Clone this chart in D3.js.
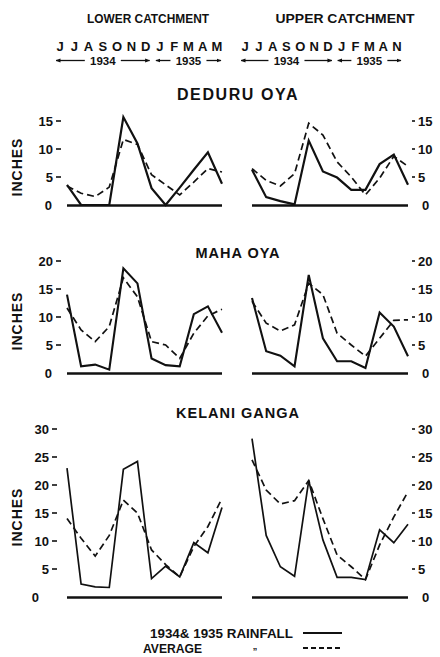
<!DOCTYPE html>
<html>
<head>
<meta charset="utf-8">
<script src="https://cdn.jsdelivr.net/npm/d3@7"></script>
<style>
  html, body { margin: 0; padding: 0; background: #fff; }
  svg { display: block; }
  text { font-family: "Liberation Sans", Arial, sans-serif; fill: #111; }
</style>
</head>
<body>
<svg id="chart" width="440" height="657"></svg>
<script>
/* ── datos: lluvia mensual (pulgadas), julio 1934 → mayo 1935 ── */
const meses        = ["Jul","Aug1","Aug","Sep","Oct","Nov","Dec","Jan","Feb","Mar","Apr","May"];
const letrasBaja   = ["J","J","A","S","O","N","D","J","F","M","A","M"];
const letrasAlta   = ["J","J","A","S","O","N","D","J","F","M","A","N"];
const rios         = ["DEDURU OYA", "MAHA OYA", "KELANI GANGA"];

const deduruBajaLluvia   = [3.6, 0, 0, 0, 15.7, 11, 3, 0, 3.1, 6.3, 9.4, 3.8];
const deduruBajaMedia    = [3.4, 2.1, 1.5, 3.2, 11.7, 10.8, 5.4, 3.6, 1.8, 4.1, 6.5, 5.9];
const deduruAltaLluvia   = [6.3, 1.4, 0.7, 0.1, 11.5, 6, 4.9, 2.7, 2.7, 7.3, 9, 3.6];
const deduruAltaMedia    = [6.5, 4.4, 3.4, 5.6, 14.6, 12.5, 7.7, 5, 1.8, 4.8, 8.7, 6.9];

const mahaBajaLluvia     = [14, 1.2, 1.5, 0.6, 18.7, 16, 2.6, 1.4, 1.2, 10.5, 11.9, 7.2];
const mahaBajaMedia      = [11.6, 7.7, 5.6, 8.3, 17, 13.6, 5.6, 5, 2.6, 7.1, 10.2, 11.4];
const mahaAltaLluvia     = [13.4, 3.9, 3.1, 1.2, 17.5, 6.2, 2.1, 2.1, 0.9, 10.8, 8.3, 3];
const mahaAltaMedia      = [12.8, 8.9, 7.5, 8.6, 16, 14, 7.1, 5, 3, 6.2, 9.4, 9.5];

const kelaniBajaLluvia   = [23, 2.3, 1.8, 1.7, 22.8, 24.2, 3.3, 5.5, 3.6, 9.7, 7.9, 16];
const kelaniBajaMedia    = [14, 10.5, 7.3, 11, 17.3, 15, 8.4, 5.8, 3.6, 9, 12.6, 17.6];
const kelaniAltaLluvia   = [28.3, 11, 5.4, 3.7, 20.8, 10.2, 3.5, 3.5, 3.1, 12, 9.7, 13];
const kelaniAltaMedia    = [24.5, 19.1, 16.6, 17.2, 20.8, 14, 7.5, 5.4, 3.1, 9.3, 14.3, 18.8];

const deduruTicks = [0, 5, 10, 15];
const mahaTicks   = [0, 5, 10, 15, 20];
const kelaniTicks = [0, 5, 10, 15, 20, 25, 30];

const anios = [{ label: "1934", desde: 0, hasta: 6 }, { label: "1935", desde: 7, hasta: 11 }];

/* ── armado de paneles ── */
const paneles = [
  { rio: rios[0], ticks: deduruTicks, y0: 205, yTit: 100, baja: [deduruBajaLluvia, deduruBajaMedia], alta: [deduruAltaLluvia, deduruAltaMedia], ancho: 2.2 },
  { rio: rios[1], ticks: mahaTicks,   y0: 373, yTit: 258, baja: [mahaBajaLluvia, mahaBajaMedia],     alta: [mahaAltaLluvia, mahaAltaMedia],     ancho: 2.1 },
  { rio: rios[2], ticks: kelaniTicks, y0: 597, yTit: 418, baja: [kelaniBajaLluvia, kelaniBajaMedia], alta: [kelaniAltaLluvia, kelaniAltaMedia], ancho: 1.7 }
];

const pxPorPulgada = 5.6;
const tinta = "#111";

const svg = d3.select("#chart");

const xBaja = d3.scalePoint().domain(meses).range([67, 222]);
const xAlta = d3.scalePoint().domain(meses).range([252, 408]);

/* punta de flecha para la fila de años */
svg.append("defs").append("marker")
  .attr("id", "punta")
  .attr("viewBox", "0 0 10 10")
  .attr("refX", 9).attr("refY", 5)
  .attr("markerWidth", 5).attr("markerHeight", 5)
  .attr("markerUnits", "userSpaceOnUse")
  .attr("orient", "auto")
  .append("path")
  .attr("d", "M0 1 L10 5 L0 9 z")
  .attr("fill", tinta);

/* ── encabezados ── */
const cabeceras = [
  { texto: "LOWER CATCHMENT", x: 148, largo: 122, letras: letrasBaja, rango: [60, 217] },
  { texto: "UPPER CATCHMENT", x: 345, largo: 139, letras: letrasAlta, rango: [245, 397] }
];

cabeceras.forEach(c => {
  svg.append("text")
    .attr("x", c.x).attr("y", 23)
    .attr("text-anchor", "middle")
    .attr("font-size", 13)
    .attr("font-weight", 700)
    .attr("textLength", c.largo)
    .attr("lengthAdjust", "spacingAndGlyphs")
    .text(c.texto);

  const xm = d3.scalePoint().domain(d3.range(12)).range(c.rango);

  svg.append("g").selectAll("text")
    .data(c.letras)
    .join("text")
    .attr("x", (d, i) => xm(i))
    .attr("y", 51)
    .attr("text-anchor", "middle")
    .attr("font-size", 13)
    .attr("font-weight", 700)
    .text(d => d);

  /* años con flechas a ambos lados */
  anios.forEach(a => {
    const ini = xm(a.desde) - 4, fin = xm(a.hasta) + 4;
    const medio = (ini + fin) / 2;
    svg.append("text")
      .attr("x", medio).attr("y", 65)
      .attr("text-anchor", "middle")
      .attr("font-size", 11.5)
      .attr("font-weight", 700)
      .text(a.label);
    [[medio - 18, ini], [medio + 18, fin]].forEach(([x1, x2]) => {
      svg.append("line")
        .attr("x1", x1).attr("y1", 60.5)
        .attr("x2", x2).attr("y2", 60.5)
        .attr("stroke", tinta)
        .attr("stroke-width", 1.3)
        .attr("marker-end", "url(#punta)");
    });
  });
});

/* ── paneles por río ── */
const linea = (x, y) => d3.line().x((d, i) => x(meses[i])).y(d => y(d));

paneles.forEach(p => {
  const maximo = d3.max(p.ticks);
  const y = d3.scaleLinear().domain([0, maximo]).range([p.y0, p.y0 - maximo * pxPorPulgada]);

  svg.append("text")
    .attr("x", 238).attr("y", p.yTit)
    .attr("text-anchor", "middle")
    .attr("font-size", p.rio === "DEDURU OYA" ? 16 : 14.5)
    .attr("font-weight", 700)
    .attr("letter-spacing", p.rio === "DEDURU OYA" ? 1.6 : 1)
    .text(p.rio);

  /* rótulo INCHES */
  svg.append("text")
    .attr("transform", `translate(22,${y(maximo / 2) + 4}) rotate(-90)`)
    .attr("text-anchor", "middle")
    .attr("font-size", 14)
    .attr("font-weight", 700)
    .attr("letter-spacing", 1)
    .text("INCHES");

  [[xBaja, p.baja, "izq"], [xAlta, p.alta, "der"]].forEach(([x, series, lado]) => {
    const g = svg.append("g");

    /* línea base */
    g.append("line")
      .attr("x1", x.range()[0]).attr("x2", x.range()[1])
      .attr("y1", y(0) + 0.5).attr("y2", y(0) + 0.5)
      .attr("stroke", tinta)
      .attr("stroke-width", 2.4);

    /* lluvia 1934-35 (continua) y media (discontinua) */
    g.append("path")
      .datum(series[0])
      .attr("d", linea(x, y))
      .attr("fill", "none")
      .attr("stroke", tinta)
      .attr("stroke-width", p.ancho)
      .attr("stroke-linejoin", "miter");

    g.append("path")
      .datum(series[1])
      .attr("d", linea(x, y))
      .attr("fill", "none")
      .attr("stroke", tinta)
      .attr("stroke-width", 1.7)
      .attr("stroke-dasharray", "7,4");

    /* escala vertical */
    const ejeX = lado === "izq" ? (maximo === 30 ? 49 : 53) : 418;
    g.selectAll("text.tick")
      .data(p.ticks)
      .join("text")
      .attr("class", "tick")
      .attr("x", d => d === 0 ? (lado === "izq" ? ejeX - (maximo === 30 ? 10 : 1) : ejeX + 4) : ejeX)
      .attr("y", d => y(d) + 5)
      .attr("text-anchor", lado === "izq" ? "end" : "start")
      .attr("font-size", 13)
      .attr("font-weight", 700)
      .text(d => d);

    g.selectAll("line.tick")
      .data(p.ticks.filter(d => d > 0))
      .join("line")
      .attr("class", "tick")
      .attr("x1", lado === "izq" ? ejeX + 3 : ejeX - 6)
      .attr("x2", lado === "izq" ? ejeX + 8 : ejeX - 3)
      .attr("y1", d => y(d)).attr("y2", d => y(d))
      .attr("stroke", tinta)
      .attr("stroke-width", 1.6);
  });
});

/* ── leyenda ── */
const leyenda = svg.append("g").attr("font-weight", 700);
leyenda.append("text").attr("x", 150).attr("y", 638)
  .attr("font-size", 12.5).attr("textLength", 143).attr("lengthAdjust", "spacingAndGlyphs")
  .text("1934& 1935 RAINFALL");
leyenda.append("text").attr("x", 143).attr("y", 653)
  .attr("font-size", 12.5).attr("textLength", 59).attr("lengthAdjust", "spacingAndGlyphs")
  .text("AVERAGE");
leyenda.append("text").attr("x", 255).attr("y", 654)
  .attr("text-anchor", "middle").attr("font-size", 9)
  .text("\u201D");
leyenda.append("line").attr("x1", 303).attr("x2", 342).attr("y1", 633).attr("y2", 633)
  .attr("stroke", tinta).attr("stroke-width", 2);
leyenda.append("line").attr("x1", 303).attr("x2", 341).attr("y1", 648).attr("y2", 648)
  .attr("stroke", tinta).attr("stroke-width", 1.8).attr("stroke-dasharray", "5,3");
</script>
</body>
</html>
